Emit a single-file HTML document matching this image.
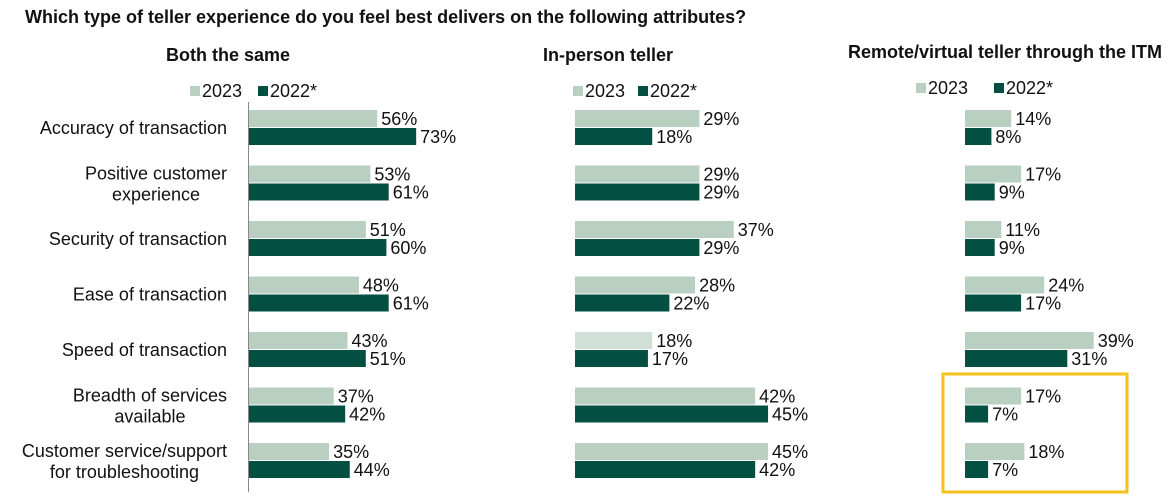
<!DOCTYPE html>
<html><head><meta charset="utf-8"><style>
body{margin:0;background:#fff;}
svg text{font-family:"Liberation Sans",Arial,sans-serif;fill:#111;}
</style></head><body>
<svg id="c" width="1173" height="495" viewBox="0 0 1173 495" xmlns="http://www.w3.org/2000/svg">
<text x="25" y="23" font-size="18" font-weight="bold">Which type of teller experience do you feel best delivers on the following attributes?</text>
<rect x="943" y="374" width="184" height="118" fill="none" stroke="#f5c21b" stroke-width="3"/>
</svg>
<script>
const categories=[["Accuracy of transaction"],["Positive customer","experience"],["Security of transaction"],["Ease of transaction"],["Speed of transaction"],["Breadth of services","available"],["Customer service/support","for troubleshooting"]];
const panelTitles=["Both the same","In-person teller","Remote/virtual teller through the ITM"];
const both2023=[56,53,51,48,43,37,35];
const both2022=[73,61,60,61,51,42,44];
const inperson2023=[29,29,37,28,18,42,45];
const inperson2022=[18,29,29,22,17,45,42];
const remote2023=[14,17,11,24,39,17,18];
const remote2022=[8,9,9,17,31,7,7];
const seriesNames=["2023","2022*"];

const svg=document.getElementById('c');
const NS="http://www.w3.org/2000/svg";
function mk(t,a){const e=document.createElementNS(NS,t);for(const k in a)e.setAttribute(k,a[k]);svg.appendChild(e);return e;}
const LIGHT="#b8cfc2",DARK="#034f41";
const panels=[
 {x0:249,scale:2.29,tx:228,ty:61,lx:190,lgap:68,ly:97,d:[both2023,both2022],key:'both'},
 {x0:575,scale:4.29,tx:608,ty:61,lx:573,lgap:65,ly:97,d:[inperson2023,inperson2022],key:'in-person'},
 {x0:965,scale:3.3,tx:1005,ty:58,lx:916,lgap:78,ly:94,d:[remote2023,remote2022],key:'remote'}
];
function yRow(i){return 110+i*55.5;}
const BH=18;
panels.forEach((p,pi)=>{
 const t=mk('text',{x:p.tx,y:p.ty,'font-size':18,'font-weight':'bold','text-anchor':'middle'});
 
 
 t.textContent=panelTitles[pi];
 let lx=p.lx;
 seriesNames.forEach((s,si)=>{
  const r=mk('rect',{x:lx,y:p.ly-11,width:10,height:10,fill:si?DARK:LIGHT});
  
  
  const lt=mk('text',{x:lx+12,y:p.ly,'font-size':18});
  
  
  lt.textContent=s;
  lx+=p.lgap;
 });
 p.d.forEach((arr,si)=>{
  arr.forEach((v,i)=>{
   const y=yRow(i)+si*BH;
   let col=si?DARK:LIGHT;
   if(pi==1&&i==4&&si==0)col="#d0e0d6";
   const w=v*p.scale;
   const r=mk('rect',{x:p.x0,y:y,width:w,height:BH-1,fill:col});
   
   
   const vt=mk('text',{x:p.x0+w+4,y:y+15,'font-size':18});
   
   
   vt.textContent=v+'%';
  });
 });
});
const ax=mk('line',{x1:248.5,y1:102,x2:248.5,y2:492,stroke:'#888','stroke-width':1});


categories.forEach((c,i)=>{
 const cy=yRow(i)+BH;
 const t=mk('text',{x:127,'font-size':18,'text-anchor':'middle'});
 
 
 const spans=[];
 if(c.length==1){t.setAttribute('y',cy+6);t.textContent=c[0];}
 else{
  c.forEach((ln,k)=>{const ts=document.createElementNS(NS,'tspan');ts.setAttribute('x',127);ts.setAttribute('y',cy-4+k*21);ts.textContent=ln;t.appendChild(ts);spans.push(ts);});
 }
 let w=0;
 if(spans.length){spans.forEach(s=>{w=Math.max(w,s.getComputedTextLength());});}
 else w=t.getComputedTextLength();
 const cx=227-w/2;
 t.setAttribute('x',cx);
 spans.forEach(s=>s.setAttribute('x',cx));
});
</script>
</body></html>
